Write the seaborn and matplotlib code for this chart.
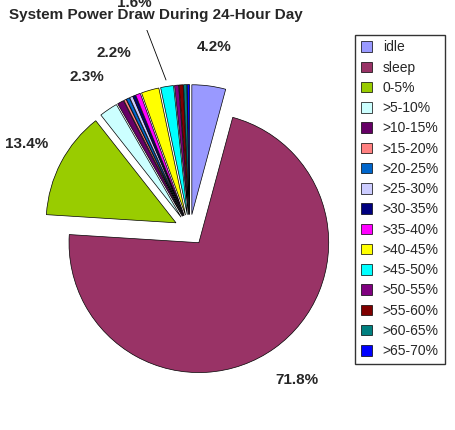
import matplotlib
matplotlib.use('Agg')
import matplotlib.pyplot as plt
import seaborn as sns
import numpy as np

sns.set_style('white')
plt.rcParams['font.family'] = ['Liberation Sans', 'DejaVu Sans']

# data
labels = ['idle', 'sleep', '0-5%', '>5-10%', '>10-15%', '>15-20%', '>20-25%', '>25-30%',
          '>30-35%', '>35-40%', '>40-45%', '>45-50%', '>50-55%', '>55-60%', '>60-65%', '>65-70%']
values = [4.2, 71.8, 13.4, 2.3, 0.8, 0.3, 0.4, 0.4, 0.3, 0.6, 2.2, 1.6, 0.5, 0.5, 0.4, 0.3]
colors = ['#9999ff', '#993366', '#99cc00', '#ccffff', '#660066', '#ff8080', '#0066cc', '#ccccff',
          '#000080', '#ff00ff', '#ffff00', '#00ffff', '#800080', '#800000', '#008080', '#0000ff']

fig = plt.figure(figsize=(4.55, 4.30), dpi=100)
ax = fig.add_axes([0.0, 0.0, 0.76, 0.93])

def fmt(p):
    return f'{p:.1f}%' if p >= 1.5 else ''

wedges, texts, autotexts = ax.pie(values, colors=colors, startangle=90, counterclock=False,
                                  explode=[0.12] * len(values), autopct=fmt, pctdistance=1.3,
                                  wedgeprops=dict(edgecolor='black', linewidth=0.5),
                                  textprops=dict(fontsize=11, fontweight='bold'))
ax.set_xlim(-1.46, 1.2)
ax.set_ylim(-1.54, 1.54)
ax.set_aspect('equal', adjustable='box')

# push the 1.6% label out with a leader line
w = wedges[11]
ang = np.deg2rad((w.theta1 + w.theta2) / 2)
cx, cy = w.center
autotexts[11].set_position((cx + 1.65 * np.cos(ang) - 0.15, cy + 1.65 * np.sin(ang)))
ax.plot([cx + 1.05 * np.cos(ang), cx + 1.5 * np.cos(ang) - 0.1],
        [cy + 1.05 * np.sin(ang), cy + 1.5 * np.sin(ang)], color='black', lw=0.6)
w = wedges[10]
ang = np.deg2rad((w.theta1 + w.theta2) / 2)
cx, cy = w.center
autotexts[10].set_position((cx + 1.3 * np.cos(ang) - 0.2, cy + 1.3 * np.sin(ang)))

fig.text(0.02, 0.955, 'System Power Draw During 24-Hour Day', ha='left',
         fontsize=11, fontweight='bold')

leg = fig.legend(wedges, labels, loc='upper left', bbox_to_anchor=(0.765, 0.935),
                 frameon=True, fancybox=False, edgecolor='black', fontsize=10,
                 handlelength=0.8, handleheight=0.8, labelspacing=0.45, borderpad=0.4)

fig.savefig('out.png', dpi=100)
